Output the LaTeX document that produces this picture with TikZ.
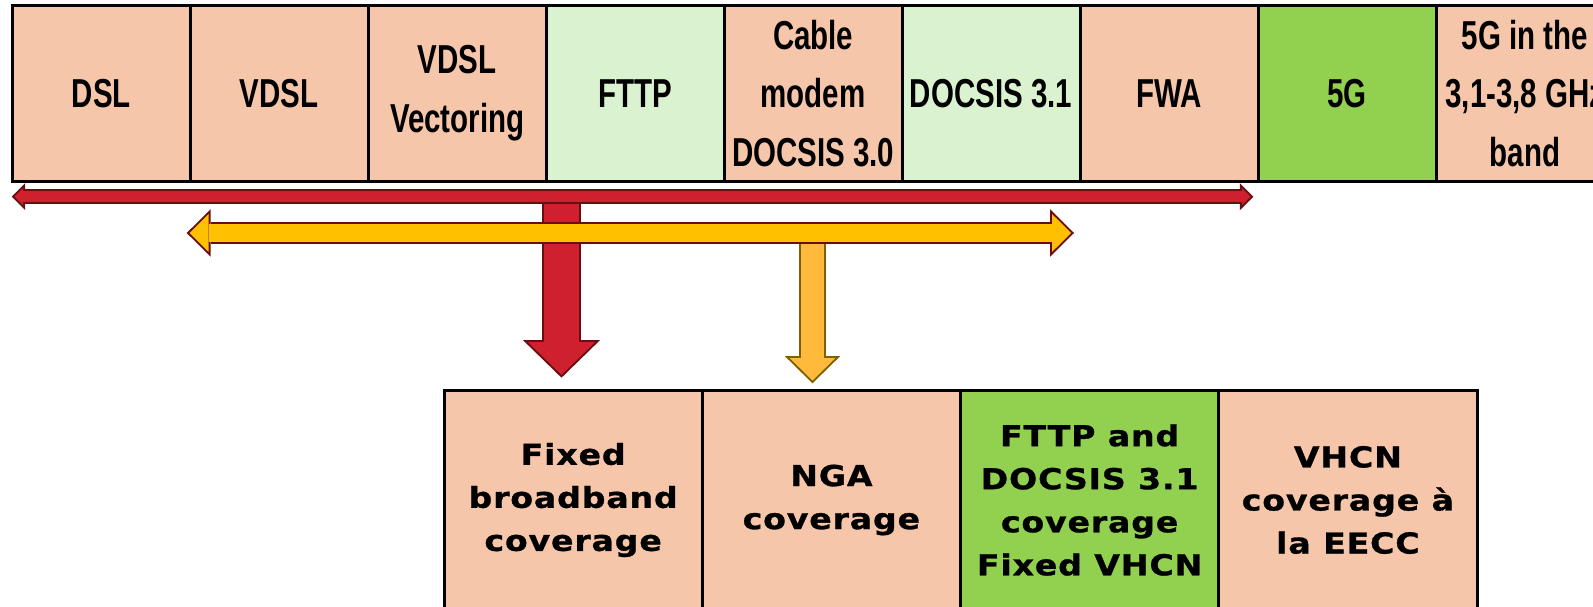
\documentclass[tikz,border=0pt]{standalone}
\usepackage{fontspec}
\newfontfamily\condfont[FakeStretch=0.73]{Liberation Sans}
\newfontfamily\widefont[FakeStretch=1.15, FakeBold=1, LetterSpace=3]{DejaVu Sans}
\usetikzlibrary{arrows.meta,positioning}

\definecolor{peach}{HTML}{F6C6AB}
\definecolor{palegreen}{HTML}{DAF2D0}
\definecolor{brightgreen}{HTML}{92D050}
\definecolor{redfill}{HTML}{CF202E}
\definecolor{redline}{HTML}{6B0C10}
\definecolor{yellowfill}{HTML}{FFC000}
\definecolor{amberfill}{HTML}{FFBA3B}
\definecolor{amberline}{HTML}{7F6000}

\begin{document}
\begin{tikzpicture}[x=0.02cm, y=-0.02cm,
  tech/.style={draw, line width=0.06cm, fill=peach, minimum width=3.56cm,
    minimum height=3.52cm, inner sep=0pt, outer sep=0pt, align=center,
    font=\condfont\bfseries\fontsize{23}{33.4}\selectfont},
  cover/.style={draw, line width=0.06cm, fill=peach, minimum width=5.166cm,
    minimum height=4.4cm, inner sep=0pt, outer sep=0pt, align=center,
    font=\widefont\bfseries\fontsize{16.4}{24.5}\selectfont},
  redboth/.style={draw=redfill, line width=0.214cm,
    {Triangle[width=0.348cm,length=0.174cm,line width=0pt]}-{Triangle[width=0.348cm,length=0.174cm,line width=0pt]},
    shorten <=0.056cm, shorten >=0.056cm,
    preaction={draw=redline, line width=0.294cm,
      {Triangle[width=0.54cm,length=0.27cm,line width=0pt]}-{Triangle[width=0.54cm,length=0.27cm,line width=0pt]},
      shorten <=0pt, shorten >=0pt}},
  yellowboth/.style={draw=yellowfill, line width=0.36cm,
    {Triangle[width=0.758cm,length=0.383cm,line width=0pt]}-{Triangle[width=0.758cm,length=0.383cm,line width=0pt]},
    shorten <=0.057cm, shorten >=0.057cm,
    preaction={draw=redline, line width=0.44cm,
      {Triangle[width=0.95cm,length=0.48cm,line width=0pt]}-{Triangle[width=0.95cm,length=0.48cm,line width=0pt]},
      shorten <=0pt, shorten >=0pt}},
  reddown/.style={draw=redfill, line width=0.688cm,
    -{Triangle[width=1.35cm,length=0.658cm,line width=0pt]}, shorten >=0.056cm,
    preaction={draw=redline, line width=0.768cm,
      -{Triangle[width=1.546cm,length=0.754cm,line width=0pt]}, shorten >=0pt}},
  amberdown/.style={draw=amberfill, line width=0.46cm,
    -{Triangle[width=0.918cm,length=0.45cm,line width=0pt]}, shorten >=0.056cm,
    preaction={draw=amberline, line width=0.54cm,
      -{Triangle[width=1.114cm,length=0.546cm,line width=0pt]}, shorten >=0pt}}
]
  \path[use as bounding box, clip] (0,0) rectangle (1593,607);

  % technologies
  \node[tech] (dsl) at (101.3,93.5) {DSL};
  \node[tech, right=0pt of dsl] (vdsl) {VDSL};
  \node[tech, right=0pt of vdsl] (vect) {VDSL\\Vectoring};
  \node[tech, fill=palegreen, right=0pt of vect] (fttp) {FTTP};
  \node[tech, right=0pt of fttp] (cable) {Cable\\modem\\DOCSIS 3.0};
  \node[tech, fill=palegreen, right=0pt of cable] (docsis) {DOCSIS 3.1};
  \node[tech, right=0pt of docsis] (fwa) {FWA};
  \node[tech, fill=brightgreen, right=0pt of fwa] (fiveg) {5G};
  \node[tech, right=0pt of fiveg] (band) {5G in the\\3,1-3,8 GHz\\band};

  % coverage categories
  \node[cover] (fbb) at (573.15,500) {Fixed\\broadband\\coverage};
  \node[cover, right=0pt of fbb] (nga) {NGA\\coverage};
  \node[cover, fill=brightgreen, right=0pt of nga] (fvhcn)
    {FTTP and\\DOCSIS 3.1\\coverage\\Fixed VHCN};
  \node[cover, right=0pt of fvhcn] (eecc) {VHCN\\coverage à\\la EECC};

  \coordinate (redleft) at (11.7,196.7);
  \coordinate (redright) at (1253.3,196.7);
  \coordinate (yelleft) at (186.7,233);
  \coordinate (yelright) at (1074,233);
  \coordinate (redfrom) at (561.5,200);
  \coordinate (redto) at (561.5,377.7);
  \coordinate (ambfrom) at (812.5,236);
  \coordinate (ambto) at (812.5,383.3);

  \draw[reddown] (redfrom) -- (redto);
  \draw[redboth] (redleft) -- (redright);
  \draw[amberdown] (ambfrom) -- (ambto);
  \draw[yellowboth] (yelleft) -- (yelright);
\end{tikzpicture}
\end{document}
